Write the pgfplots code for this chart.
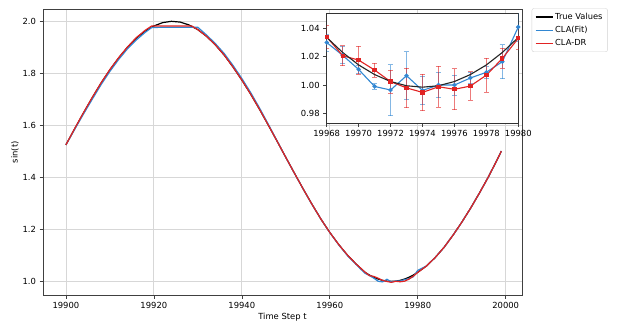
\documentclass[border=0pt]{standalone}
\usepackage{pgfplots}
\pgfplotsset{compat=1.18}
\usepackage{fontspec}
\setmainfont{DejaVu Sans}
\definecolor{cblue}{RGB}{50,135,210}
\definecolor{cred}{RGB}{225,35,35}
\definecolor{gridc}{RGB}{215,215,215}
\pgfplotsset{
  every tick label/.append style={font=\fontsize{8.4}{10}\selectfont},
  /pgf/number format/assume math mode=true,
}
\begin{document}
\begin{tikzpicture}[x=1pt,y=1pt]
\useasboundingbox (0,0) rectangle (623,322);
\begin{axis}[
  at={(43pt,27pt)}, anchor=south west,
  width=479pt, height=285.5pt, scale only axis,
  xmin=19894.8, xmax=20003.7, ymin=0.946, ymax=2.0455,
  xtick={19900,19920,...,20000},
  ytick={1.0,1.2,...,2.01},
  scaled x ticks=false, scaled y ticks=false,
  xticklabel style={/pgf/number format/.cd, fixed, precision=0, 1000 sep={}},
  yticklabel style={/pgf/number format/.cd, fixed, fixed zerofill, precision=1},
  tick pos=left, tick align=outside, major tick length=3.5pt,
  tick style={black!75, line width=0.6pt},
  axis line style={black!75, line width=0.7pt},
  grid=major, major grid style={gridc, line width=0.7pt},
  xlabel={Time Step t}, ylabel={sin(t)},
  label style={font=\fontsize{8.4}{10}\selectfont},
  xlabel style={at={(axis description cs:0.5,0)}, anchor=center, yshift=-21.7pt},
  ylabel style={at={(axis description cs:-0.0585,0.5)}, anchor=center},
  legend style={at={(axis description cs:1,1)}, anchor=north west, xshift=9.7pt, yshift=1.2pt,
    font=\fontsize{8.3}{10}\selectfont, draw=gray!35, rounded corners=2pt,
    row sep=1.5pt, inner xsep=3pt, inner ysep=2.5pt},
  legend cell align=left,
]
\addplot[black, line width=1.2pt] coordinates {
(19900,1.524) (19902,1.586) (19904,1.647) (19906,1.706) (19908,1.762) (19910,1.813)
(19912,1.859) (19914,1.900) (19916,1.935) (19918,1.962) (19920,1.982) (19922,1.995)
(19924,2.000) (19926,1.997) (19928,1.986) (19930,1.968) (19932,1.942) (19934,1.909)
(19936,1.870) (19938,1.824) (19940,1.774) (19942,1.720) (19944,1.662) (19946,1.601)
(19948,1.539) (19950,1.476) (19952,1.414) (19954,1.353) (19956,1.294) (19958,1.238)
(19960,1.187) (19962,1.141) (19964,1.100) (19966,1.065) (19968,1.0336) (19969,1.0230)
(19970,1.0142) (19971,1.0074) (19972,1.0025) (19973,0.9995) (19974,0.9985) (19975,0.9995)
(19976,1.0025) (19977,1.0074) (19978,1.0142) (19979,1.0230) (19980,1.0336) (19982,1.058)
(19984,1.091) (19986,1.130) (19988,1.176) (19990,1.226) (19992,1.280) (19994,1.338)
(19996,1.399) (19998,1.465) (19999,1.500)
};
\addlegendentry{True Values}
\addplot[cblue, line width=1.2pt] coordinates {
(19900,1.524) (19902,1.584) (19904,1.643) (19906,1.700) (19908,1.756) (19910,1.807)
(19912,1.853) (19914,1.894) (19916,1.928) (19918,1.957) (19919.5,1.976) (19922,1.977)
(19926,1.977) (19930,1.977) (19931,1.962) (19932,1.947) (19934,1.914) (19936,1.876)
(19938,1.830) (19940,1.780) (19942,1.726) (19944,1.667) (19946,1.604) (19948,1.540)
(19950,1.476) (19952,1.414) (19954,1.353) (19956,1.294) (19958,1.238) (19960,1.187)
(19962,1.140) (19964,1.098) (19966,1.064) (19967,1.046) (19968,1.030) (19969,1.021)
(19970,1.011) (19971,0.999) (19972,0.9965) (19973,1.0066) (19974,0.9962) (19975,1.000)
(19976,1.000) (19977,1.005) (19978,1.009) (19979,1.0165) (19980,1.041) (19982,1.058)
(19984,1.091) (19986,1.130) (19988,1.176) (19990,1.226) (19992,1.280) (19994,1.338)
(19996,1.399) (19998,1.465) (19999,1.500)
};
\addlegendentry{CLA(Fit)}
\addplot[cred, line width=1.2pt] coordinates {
(19900,1.524) (19902,1.587) (19904,1.648) (19906,1.707) (19908,1.763) (19910,1.814)
(19912,1.860) (19914,1.901) (19916,1.937) (19918,1.965) (19919.5,1.982) (19922,1.982)
(19926,1.982) (19928.6,1.982) (19930,1.968) (19932,1.942) (19934,1.909)
(19936,1.870) (19938,1.824) (19940,1.774) (19942,1.720) (19944,1.662) (19946,1.601)
(19948,1.539) (19950,1.476) (19952,1.414) (19954,1.353) (19956,1.294) (19958,1.238)
(19960,1.187) (19962,1.141) (19964,1.100) (19966,1.065) (19968,1.034) (19969,1.0207)
(19970,1.0176) (19971,1.0106) (19972,1.0024) (19973,0.998) (19974,0.9948) (19975,0.9988)
(19976,0.997) (19977,0.9993) (19978,1.007) (19979,1.0188) (19980,1.033) (19982,1.058)
(19984,1.091) (19986,1.130) (19988,1.176) (19990,1.226) (19992,1.280) (19994,1.338)
(19996,1.399) (19998,1.465) (19999,1.500)
};
\addlegendentry{CLA-DR}
\end{axis}
\begin{axis}[
  at={(326.7pt,198.7pt)}, anchor=south west,
  width=191.6pt, height=109.8pt, scale only axis,
  xmin=19968, xmax=19980, ymin=0.973, ymax=1.0505,
  axis background/.style={fill=white},
  xtick={19968,19970,...,19980},
  ytick={0.98,1.00,1.02,1.04},
  scaled x ticks=false, scaled y ticks=false,
  xticklabel style={/pgf/number format/.cd, fixed, precision=0, 1000 sep={}},
  yticklabel style={/pgf/number format/.cd, fixed, fixed zerofill, precision=2},
  tick pos=left, tick align=outside, major tick length=3.5pt,
  tick style={black!75, line width=0.6pt},
  axis line style={black!80, line width=0.9pt},
]
\addplot[cblue, line width=1.1pt, mark=*, mark size=1.6pt,
  error bars/.cd, y dir=both, y explicit,
  error bar style={cblue, draw opacity=0.6, line width=0.8pt},
  error mark options={cblue, draw opacity=0.6, mark size=2.6pt, line width=0.8pt, rotate=90}]
coordinates {
(19968,1.030) +- (0,0.006)
(19969,1.021) +- (0,0.006)
(19970,1.011) +- (0,0.003)
(19971,0.999) +- (0,0.002)
(19972,0.9965) +- (0,0.018)
(19973,1.0066) +- (0,0.017)
(19974,0.9962) +- (0,0.010)
(19975,1.000) +- (0,0.009)
(19976,1.000) +- (0,0.007)
(19977,1.005) +- (0,0.004)
(19978,1.009) +- (0,0.004)
(19979,1.0165) +- (0,0.012)
(19980,1.041) +- (0,0.010)
};
\addplot[cred, line width=1.1pt, mark=square*, mark size=1.6pt,
  error bars/.cd, y dir=both, y explicit,
  error bar style={cred, draw opacity=0.6, line width=0.8pt},
  error mark options={cred, draw opacity=0.6, mark size=2.6pt, line width=0.8pt, rotate=90}]
coordinates {
(19968,1.034) +- (0,0.008)
(19969,1.0207) +- (0,0.007)
(19970,1.0176) +- (0,0.010)
(19971,1.0106) +- (0,0.005)
(19972,1.0024) +- (0,0.008)
(19973,0.998) +- (0,0.014)
(19974,0.9948) +- (0,0.013)
(19975,0.9988) +- (0,0.0146)
(19976,0.997) +- (0,0.0145)
(19977,0.9993) +- (0,0.010)
(19978,1.007) +- (0,0.012)
(19979,1.0188) +- (0,0.007)
(19980,1.033) +- (0,0.008)
};
\addplot[black!85, line width=1.1pt] coordinates {
(19968,1.0336) (19969,1.0230) (19970,1.0142) (19971,1.0074) (19972,1.0025) (19973,0.9995)
(19974,0.9985) (19975,0.9995) (19976,1.0025) (19977,1.0074) (19978,1.0142) (19979,1.0230)
(19980,1.0336)
};
\end{axis}
\end{tikzpicture}
\end{document}
